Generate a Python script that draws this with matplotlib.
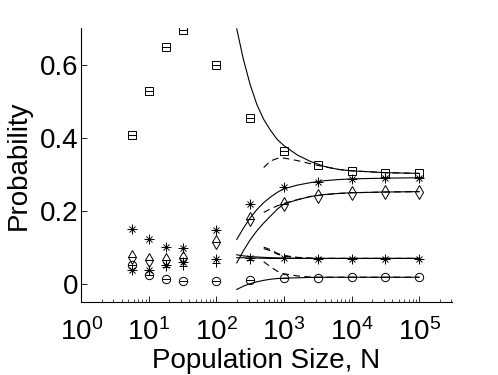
import matplotlib
matplotlib.use("Agg")
import matplotlib.pyplot as plt
from matplotlib.ticker import LogLocator, LogFormatterMathtext, NullFormatter
import numpy as np

plt.rcParams["font.family"] = ["Liberation Sans", "DejaVu Sans"]
plt.rcParams["mathtext.fontset"] = "custom"
plt.rcParams["mathtext.rm"] = "Liberation Sans"
plt.rcParams["mathtext.it"] = "Liberation Sans"
plt.rcParams["mathtext.default"] = "regular"

# --- simulation points ---
N_sim = [5.6, 10, 17.8, 31.6, 100, 316, 1000, 3162, 10000, 31623, 100000]
p_square = [0.408, 0.528, 0.647, 0.695, 0.598, 0.455, 0.362, 0.324, 0.309, 0.304, 0.302]
p_star_hi = [0.150, 0.122, 0.100, 0.098, 0.148, 0.218, 0.264, 0.279, 0.287, 0.289, 0.289]
p_diamond = [0.073, 0.065, 0.066, 0.070, 0.115, 0.177, 0.219, 0.240, 0.248, 0.251, 0.252]
p_star_lo = [0.036, 0.037, 0.052, 0.060, 0.068, 0.070, 0.069, 0.068, 0.068, 0.068, 0.068]
p_circle = [0.052, 0.025, 0.013, 0.006, 0.006, 0.011, 0.015, 0.016, 0.017, 0.017, 0.017]
N_plus = [17.8, 31.6, 100, 316]
p_plus = [0.045, 0.048, 0.057, 0.066]

# --- theory curves (solid) ---
N_th = [200, 251, 316, 398, 501, 631, 794, 1000, 1585, 2512, 3981, 6310, 10000, 31623, 100000]
th_square = [0.698, 0.614, 0.545, 0.490, 0.450, 0.420, 0.395, 0.378, 0.352, 0.334, 0.321,
             0.313, 0.309, 0.304, 0.302]
th_upper = [0.121, 0.152, 0.180, 0.203, 0.222, 0.237, 0.250, 0.260, 0.270, 0.277, 0.282,
            0.285, 0.287, 0.289, 0.290]
th_lower = [0.057, 0.090, 0.120, 0.145, 0.166, 0.185, 0.204, 0.218, 0.230, 0.239, 0.244,
            0.247, 0.249, 0.251, 0.252]
th_mid1 = [0.079, 0.076, 0.074, 0.073, 0.072, 0.071, 0.0705, 0.070, 0.0695, 0.069, 0.069,
           0.069, 0.069, 0.069, 0.069]
th_mid2 = [0.071, 0.071, 0.070, 0.070, 0.0695, 0.069, 0.069, 0.069, 0.069, 0.069, 0.069,
           0.069, 0.069, 0.069, 0.069]
th_circle = [-0.016, -0.007, 0.000, 0.005, 0.009, 0.012, 0.014, 0.015, 0.016, 0.017, 0.0175,
             0.0175, 0.0175, 0.0175, 0.0175]

# --- approximation curves (dashed) ---
N_ap = [501, 631, 794, 1000, 1585, 2512, 3981, 6310, 10000, 31623, 100000]
ap_square = [0.318, 0.336, 0.343, 0.344, 0.337, 0.328, 0.320, 0.313, 0.309, 0.304, 0.302]
ap_diamond = [0.195, 0.205, 0.213, 0.220, 0.230, 0.239, 0.244, 0.247, 0.249, 0.251, 0.252]
ap_mid1 = [0.100, 0.093, 0.083, 0.077, 0.072, 0.070, 0.069, 0.069, 0.069, 0.069, 0.069]
ap_mid2 = [0.096, 0.090, 0.081, 0.075, 0.071, 0.069, 0.069, 0.069, 0.069, 0.069, 0.069]
ap_circle = [0.060, 0.046, 0.034, 0.027, 0.021, 0.018, 0.0175, 0.0175, 0.0175, 0.0175, 0.0175]

fig = plt.figure(figsize=(4.98, 3.75), dpi=100)
ax = fig.add_axes([0.163, 0.195, 0.744, 0.730])

lw = 0.8
for y in [th_square, th_upper, th_lower, th_mid1, th_mid2, th_circle]:
    ax.plot(N_th, y, "-", color="black", lw=lw)
for y in [ap_square, ap_diamond, ap_mid1, ap_mid2, ap_circle]:
    ax.plot(N_ap, y, "--", color="black", lw=lw, dashes=(6, 4))

mk = dict(linestyle="none", color="black", mfc="none", mew=0.7)
ax.plot(N_sim, p_square, marker="s", ms=5.5, **mk)
# MATLAB-style asterisk = plus + cross
for y in [p_star_hi, p_star_lo]:
    ax.plot(N_sim, y, marker="+", ms=7, **mk)
    ax.plot(N_sim, y, marker="x", ms=5, **mk)
ax.plot(N_sim, p_diamond, marker="d", ms=7, **mk)
ax.plot(N_sim, p_circle, marker="o", ms=6, **mk)
ax.plot(N_plus, p_plus, marker="+", ms=6, **mk)

# small error bar caps through the marker centres
n_cap = 7
for y in [p_square, p_diamond, p_circle, p_star_lo]:
    ax.plot(N_sim[:n_cap], y[:n_cap], marker="_", ms=6, **mk)

ax.set_xscale("log")
ax.set_xlim(1, 10 ** 5.48)
ax.set_ylim(-0.05, 0.70)
ax.set_yticks([0, 0.2, 0.4, 0.6])
ax.set_yticklabels(["0", "0.2", "0.4", "0.6"])
ax.xaxis.set_major_locator(LogLocator(base=10, numticks=10))
ax.xaxis.set_major_formatter(LogFormatterMathtext())
ax.xaxis.set_minor_locator(LogLocator(base=10, subs=np.arange(2, 10), numticks=20))
ax.xaxis.set_minor_formatter(NullFormatter())

for s in ["top", "right"]:
    ax.spines[s].set_visible(False)
for s in ["left", "bottom"]:
    ax.spines[s].set_linewidth(0.8)

ax.tick_params(axis="both", which="major", direction="in", length=4, width=0.6,
               labelsize=20)
ax.tick_params(axis="y", which="major", pad=2)
ax.tick_params(axis="x", which="major", pad=12)
ax.tick_params(axis="x", which="minor", direction="in", length=2.5, width=0.5)

ax.set_xlabel("Population Size, N", fontsize=20, labelpad=1)
ax.set_ylabel("Probability", fontsize=20, labelpad=6)

fig.savefig("out.png", dpi=100)
